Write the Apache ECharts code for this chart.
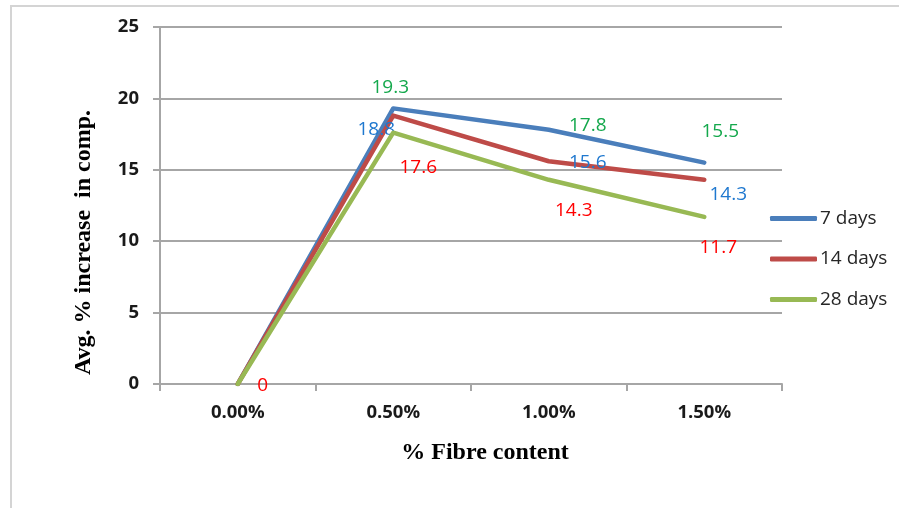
<!DOCTYPE html>
<html>
<head>
<meta charset="utf-8">
<script src="https://cdn.jsdelivr.net/npm/echarts@6/dist/echarts.min.js"></script>
<style>
  html, body { margin: 0; padding: 0; background: #ffffff; }
  #chart { width: 899px; height: 508px; }
</style>
</head>
<body>
<div id="chart"></div>
<script>
// Fibre content categories and average % increase in compressive strength
const categories = ['0.00%', '0.50%', '1.00%', '1.50%'];
const seriesNames = ['7 days', '14 days', '28 days'];
const days7 = [0, 19.3, 17.8, 15.5];
const days14 = [0, 18.8, 15.6, 14.3];
const days28 = [0, 17.6, 14.3, 11.7];
const yTicks = { min: 0, max: 25, step: 5 };

// Styling: line colours, value-label colours, label placement around each point
const lineColors = ['#4a7ebb', '#be4b48', '#98b954'];
const labelColors = ['#14a84c', '#1f78cf', '#ff0000'];
const labelOffsets = [
  [[0, 0], [-3, -21], [39, -4], [16, -31]],
  [[0, 0], [-17, 14], [39, 1], [24, 15]],
  [[25, 2], [25, 35], [25, 31], [14, 31]]
];
const labelVisible = [
  [false, true, true, true],
  [false, true, true, true],
  [true, true, true, true]
];

const values = [days7, days14, days28];

function buildSeries(k) {
  return {
    name: seriesNames[k],
    type: 'line',
    data: values[k].map((v, i) => ({
      value: v,
      label: { show: labelVisible[k][i], offset: labelOffsets[k][i] }
    })),
    symbol: 'circle',
    symbolSize: 1,
    showSymbol: true,
    itemStyle: { color: 'rgba(0,0,0,0)' },
    lineStyle: { color: lineColors[k], width: 4.5, cap: 'round', join: 'round' },
    label: {
      show: true,
      position: 'inside',
      align: 'center',
      verticalAlign: 'middle',
      color: labelColors[k],
      fontFamily: 'Open Sans',
      fontSize: 19
    },
    emphasis: { disabled: true },
    animation: false,
    z: 2 + k
  };
}

const chart = echarts.init(document.getElementById('chart'), null, { renderer: 'canvas' });
chart.setOption({
  backgroundColor: '#ffffff',
  animation: false,
  graphic: [{
    type: 'rect',
    shape: { x: 11, y: 6, width: 1000, height: 700 },
    style: { fill: 'none', stroke: '#d4d4d4', lineWidth: 2 },
    silent: true
  }],
  grid: { left: 160, right: 117, top: 27, bottom: 124, containLabel: false },
  legend: {
    orient: 'vertical',
    left: 770,
    top: 208,
    padding: 0,
    itemWidth: 47,
    itemHeight: 5,
    itemGap: 19.5,
    icon: 'roundRect',
    data: seriesNames.map((n, k) => ({ name: n, itemStyle: { color: lineColors[k] } })),
    textStyle: { fontFamily: 'Open Sans', fontSize: 19, color: '#262626', lineHeight: 21, padding: [0, 0, 0, -2] }
  },
  xAxis: {
    type: 'category',
    data: categories,
    boundaryGap: true,
    name: '% Fibre content',
    nameLocation: 'middle',
    nameGap: 57,
    nameTextStyle: {
      fontFamily: 'Liberation Serif', fontWeight: 'bold', fontSize: 24, color: '#000',
      padding: [0, 0, 0, 28]
    },
    axisLine: { show: true, lineStyle: { color: '#a6a6a6', width: 2 } },
    axisTick: { show: true, inside: false, length: 7, alignWithLabel: false, lineStyle: { color: '#a6a6a6', width: 2 } },
    axisLabel: { margin: 19, fontFamily: 'Open Sans', fontWeight: 'bold', fontSize: 18.5, color: '#1a1a1a' },
    splitLine: { show: false }
  },
  yAxis: {
    type: 'value',
    min: yTicks.min,
    max: yTicks.max,
    interval: yTicks.step,
    name: 'Avg. % increase  in comp.',
    nameLocation: 'middle',
    nameGap: 64,
    nameTextStyle: {
      fontFamily: 'Liberation Serif', fontWeight: 'bold', fontSize: 24, color: '#000',
      padding: [0, 74, 0, 0]
    },
    axisLine: { show: true, lineStyle: { color: '#a6a6a6', width: 2 } },
    axisTick: { show: true, inside: false, length: 7, lineStyle: { color: '#a6a6a6', width: 2 } },
    axisLabel: { margin: 21, fontFamily: 'Open Sans', fontWeight: 'bold', fontSize: 18.5, color: '#1a1a1a' },
    splitLine: { show: true, lineStyle: { color: '#a6a6a6', width: 2 } }
  },
  series: [buildSeries(0), buildSeries(1), buildSeries(2)]
});
</script>
</body>
</html>
